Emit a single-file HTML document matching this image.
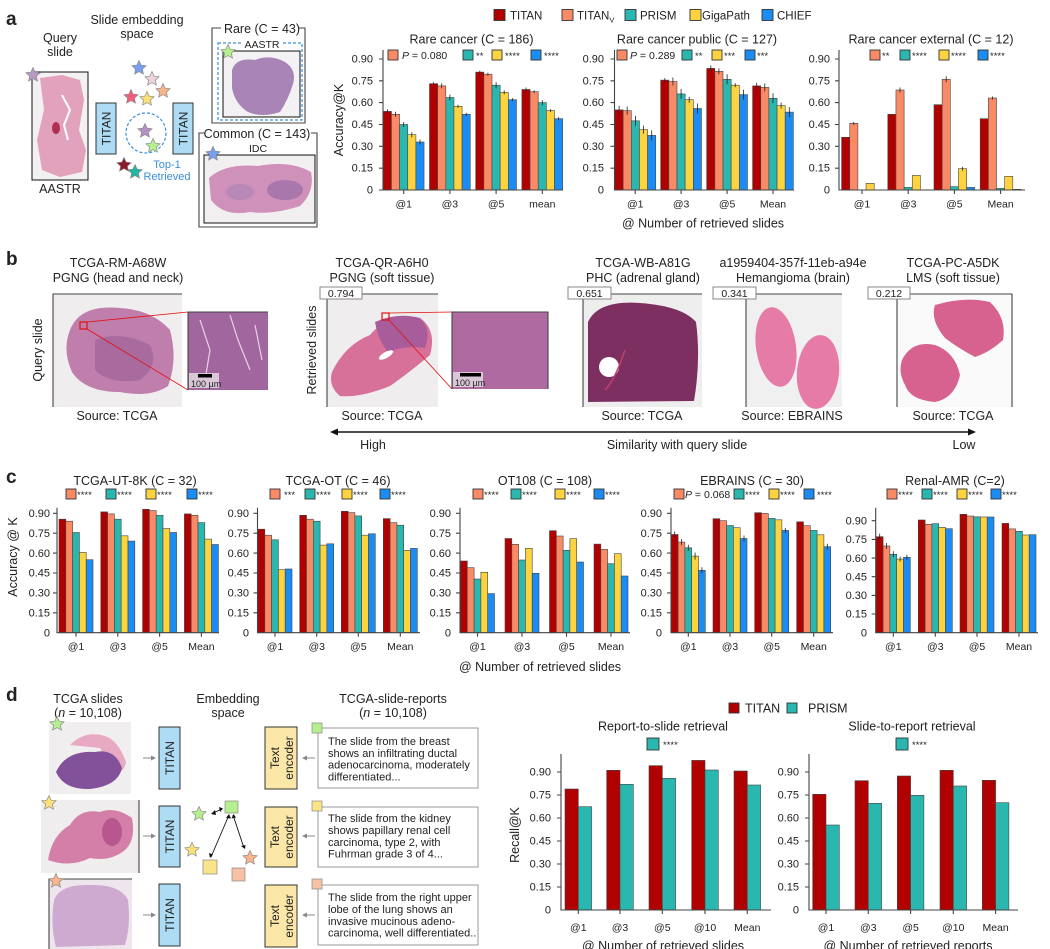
<!DOCTYPE html>
<html><head><meta charset="utf-8"><style>
html,body{margin:0;padding:0;background:#fff}
svg{display:block}
text{font-family:"Liberation Sans",sans-serif;fill:#222}
.t{fill:#b00000}.v{fill:#f98a66}.p{fill:#2ab7b0}.g{fill:#fdd33f}.c{fill:#1c8cf5}
.bars rect{stroke:#444;stroke-width:0.6}
.ax{stroke:#444;stroke-width:1.1;fill:none}
.eb{stroke:#222;stroke-width:0.8;fill:none}
.tk text{font-size:11px;text-anchor:end}
.xl text{font-size:10.5px;text-anchor:middle}
.lg rect{stroke:#333;stroke-width:0.9}
.lg text{font-size:9.5px}
.ttl{font-size:12.5px;text-anchor:middle}
.st{stroke:#888;stroke-width:0.7}
</style></head><body>
<svg width="1050" height="949" viewBox="0 0 1050 949" xmlns="http://www.w3.org/2000/svg">
<defs>
<path id="star" d="M0,-7.5 L2.1,-2.9 L7.1,-2.3 L3.4,1.1 L4.4,6.1 L0,3.6 L-4.4,6.1 L-3.4,1.1 L-7.1,-2.3 L-2.1,-2.9 Z"/>
</defs>
<rect width="1050" height="949" fill="#fff"/>

<!-- ================= PANEL A LEFT ================= -->
<text x="6" y="25" style="font-size:19px;font-weight:bold">a</text>
<text x="137" y="24" class="ttl">Slide embedding</text>
<text x="137" y="38" class="ttl">space</text>
<text x="60" y="42" class="ttl">Query</text>
<text x="60" y="56" class="ttl">slide</text>
<rect x="32" y="72" width="56" height="108" fill="#f2f0f0" stroke="#111" stroke-width="1"/>
<path d="M40,78 L62,75 L80,80 L84,100 L79,130 L86,150 L82,172 L60,177 L42,170 L37,140 L44,110 Z" fill="#e2a2bc"/>
<path d="M62,95 L70,110 L64,125 L68,140" stroke="#fff" stroke-width="2" fill="none"/>
<ellipse cx="56" cy="128" rx="4" ry="6" fill="#b03050"/>
<use href="#star" x="33" y="75" fill="#b89ac4" class="st"/>
<text x="60" y="193" class="ttl">AASTR</text>
<rect x="96" y="103" width="20" height="51" fill="#aedcf5" stroke="#333"/>
<text transform="rotate(-90 110.5 128.5)" x="110.5" y="128.5" style="font-size:12px;text-anchor:middle">TITAN</text>
<rect x="173" y="103" width="20" height="51" fill="#aedcf5" stroke="#333"/>
<text transform="rotate(-90 187.5 128.5)" x="187.5" y="128.5" style="font-size:12px;text-anchor:middle">TITAN</text>
<use href="#star" x="139" y="68" fill="#7a9ff0" class="st"/>
<use href="#star" x="152" y="79" fill="#f0d3e0" class="st"/>
<use href="#star" x="163" y="91" fill="#f8b48c" class="st"/>
<use href="#star" x="131" y="97" fill="#f0607a" class="st"/>
<use href="#star" x="147" y="99" fill="#fbe17a" class="st"/>
<circle cx="146" cy="133" r="20" fill="none" stroke="#3a8fd8" stroke-width="1.2" stroke-dasharray="3,2"/>
<use href="#star" x="145" y="131" fill="#b592c4" class="st"/>
<use href="#star" x="153" y="146" fill="#b6ef8f" class="st"/>
<use href="#star" x="124" y="165" fill="#8b1a2b" class="st"/>
<use href="#star" x="135" y="172" fill="#26b5a4" class="st"/>
<text x="167" y="168" style="font-size:11px;text-anchor:middle;fill:#3a8fd8">Top-1</text>
<text x="167" y="180" style="font-size:11px;text-anchor:middle;fill:#3a8fd8">Retrieved</text>

<!-- Rare box -->
<path d="M221,28 L212,28 L212,123 L305,123 L305,28 L299,28" class="ax" stroke="#111"/>
<text x="262" y="33" style="font-size:12.5px;text-anchor:middle">Rare (C = 43)</text>
<rect x="218" y="43" width="84" height="77" fill="none" stroke="#3a8fd8" stroke-width="1.2" stroke-dasharray="3,2"/>
<rect x="223" y="51" width="77" height="66" fill="#f3f1f3" stroke="#111"/>
<rect x="243" y="39" width="38" height="10" fill="#fff"/>
<text x="262" y="48" style="font-size:10.5px;text-anchor:middle">AASTR</text>
<path d="M232,70 Q236,57 255,60 Q270,54 285,62 Q297,70 293,84 Q288,100 280,112 Q262,118 248,112 Q235,104 232,88 Z" fill="#a885b6"/>
<use href="#star" x="228" y="52" fill="#b6ef8f" class="st"/>

<!-- Common box -->
<path d="M205,133 L199,133 L199,227 L317,227 L317,133 L311,133" class="ax" stroke="#111"/>
<text x="257" y="138" style="font-size:12.5px;text-anchor:middle">Common (C = 143)</text>
<text x="258" y="152" style="font-size:10.5px;text-anchor:middle">IDC</text>
<rect x="204" y="155" width="111" height="68" fill="#f1eff0" stroke="#111"/>
<path d="M209,178 Q225,163 258,166 Q290,160 311,172 Q315,192 300,206 Q272,215 250,212 Q224,217 211,200 Z" fill="#cf90b9"/>
<ellipse cx="285" cy="190" rx="18" ry="10" fill="#a977ac"/>
<ellipse cx="240" cy="192" rx="14" ry="8" fill="#b889b6"/>
<use href="#star" x="213" y="154" fill="#7a9ff0" class="st"/>

<!-- ================= PANEL A CHARTS ================= -->
<g class="lg">
<rect x="494" y="9.5" width="11" height="11" class="t"/><text x="510" y="19.5" style="font-size:11.5px">TITAN</text>
<rect x="562" y="9.5" width="11" height="11" class="v"/><text x="577" y="19.5" style="font-size:11.5px">TITAN<tspan style="font-size:7.5px" dy="3">V</tspan></text>
<rect x="625" y="9.5" width="11" height="11" class="p"/><text x="640" y="19.5" style="font-size:11.5px">PRISM</text>
<rect x="690" y="9.5" width="11" height="11" class="g"/><text x="702" y="19.5" style="font-size:11.5px">GigaPath</text>
<rect x="762" y="9.5" width="11" height="11" class="c"/><text x="777" y="19.5" style="font-size:11.5px">CHIEF</text>
</g>
<text transform="rotate(-90 343 120)" x="343" y="120" style="font-size:12.5px;text-anchor:middle">Accuracy@K</text>

<!-- chart a1 -->
<text x="471.5" y="43.5" class="ttl">Rare cancer (C = 186)</text>
<g class="lg">
<rect x="388" y="50" width="10" height="10" class="v"/><text x="402" y="59" style="font-size:10.5px"><tspan font-style="italic">P</tspan> = 0.080</text>
<rect x="463" y="50" width="10" height="10" class="p"/><text x="476" y="59">**</text>
<rect x="492" y="50" width="10" height="10" class="g"/><text x="505" y="59">****</text>
<rect x="531" y="50" width="10" height="10" class="c"/><text x="544" y="59">****</text>
</g>
<g class="tk">
<text x="373" y="62.5">0.90</text><text x="373" y="84.3">0.75</text><text x="373" y="106.1">0.60</text><text x="373" y="128">0.45</text><text x="373" y="149.8">0.30</text><text x="373" y="171.7">0.15</text><text x="373" y="193.5">0</text>
</g>
<g class="bars">
<rect x="383.3" y="111.4" width="8.15" height="78.6" class="t"/><rect x="391.45" y="114.3" width="8.15" height="75.7" class="v"/><rect x="399.6" y="124.5" width="8.15" height="65.5" class="p"/><rect x="407.75" y="134.7" width="8.15" height="55.3" class="g"/><rect x="415.9" y="142" width="8.15" height="48" class="c"/>
<rect x="429.5" y="83.7" width="8.15" height="106.3" class="t"/><rect x="437.65" y="85.9" width="8.15" height="104.1" class="v"/><rect x="445.8" y="97.5" width="8.15" height="92.5" class="p"/><rect x="453.95" y="106.3" width="8.15" height="83.7" class="g"/><rect x="462.1" y="114.3" width="8.15" height="75.7" class="c"/>
<rect x="475.7" y="72.1" width="8.15" height="117.9" class="t"/><rect x="483.85" y="74.2" width="8.15" height="115.8" class="v"/><rect x="492" y="85.2" width="8.15" height="104.8" class="p"/><rect x="500.15" y="92.4" width="8.15" height="97.6" class="g"/><rect x="508.3" y="99.7" width="8.15" height="90.3" class="c"/>
<rect x="521.9" y="89.5" width="8.15" height="100.5" class="t"/><rect x="530.05" y="91.7" width="8.15" height="98.3" class="v"/><rect x="538.2" y="102.6" width="8.15" height="87.4" class="p"/><rect x="546.35" y="110.6" width="8.15" height="79.4" class="g"/><rect x="554.5" y="118.7" width="8.15" height="71.3" class="c"/>
</g>
<path class="eb" d="M387.4,109.4v4 M395.5,111.8v5 M403.7,122v5 M411.8,132.2v5 M420,139.5v5 M433.6,82.2v3 M441.7,83.4v5 M449.9,94.5v6 M458,104.8v3 M466.2,112.8v3 M479.8,70.6v3 M487.9,72.7v3 M496.1,82.2v6 M504.2,90.4v4 M512.4,98.2v3 M526,87.5v4 M534.1,90.2v3 M542.3,100.1v5 M550.4,109.1v3 M558.6,117.2v3"/>
<path d="M383,50 L383,190 L563,190 M379,59 L383,59 M379,80.8 L383,80.8 M379,102.6 L383,102.6 M379,124.5 L383,124.5 M379,146.3 L383,146.3 M379,168.2 L383,168.2 M379,190 L383,190 M403.7,190 L403.7,194 M449.9,190 L449.9,194 M496.1,190 L496.1,194 M542.3,190 L542.3,194" class="ax"/>
<g class="xl"><text x="403.7" y="207.5">@1</text><text x="449.9" y="207.5">@3</text><text x="496.1" y="207.5">@5</text><text x="542.3" y="207.5">mean</text></g>

<!-- chart a2 -->
<text x="697" y="43.5" class="ttl">Rare cancer public (C = 127)</text>
<g class="lg">
<rect x="617" y="50" width="10" height="10" class="v"/><text x="630" y="59" style="font-size:10.5px"><tspan font-style="italic">P</tspan> = 0.289</text>
<rect x="682" y="50" width="10" height="10" class="p"/><text x="695" y="59">**</text>
<rect x="712" y="50" width="10" height="10" class="g"/><text x="724" y="59">***</text>
<rect x="745" y="50" width="10" height="10" class="c"/><text x="757" y="59">***</text>
</g>
<g class="tk">
<text x="604" y="62.5">0.90</text><text x="604" y="84.3">0.75</text><text x="604" y="106.1">0.60</text><text x="604" y="128">0.45</text><text x="604" y="149.8">0.30</text><text x="604" y="171.7">0.15</text><text x="604" y="193.5">0</text>
</g>
<g class="bars">
<rect x="615" y="109.9" width="8.15" height="80.1" class="t"/><rect x="623.15" y="110.6" width="8.15" height="79.4" class="v"/><rect x="631.3" y="120.8" width="8.15" height="69.2" class="p"/><rect x="639.45" y="129.6" width="8.15" height="60.4" class="g"/><rect x="647.6" y="135.4" width="8.15" height="54.6" class="c"/>
<rect x="660.7" y="80.1" width="8.15" height="109.9" class="t"/><rect x="668.85" y="81.5" width="8.15" height="108.5" class="v"/><rect x="677" y="93.9" width="8.15" height="96.1" class="p"/><rect x="685.15" y="99.7" width="8.15" height="90.3" class="g"/><rect x="693.3" y="108.5" width="8.15" height="81.5" class="c"/>
<rect x="706.7" y="68.4" width="8.15" height="121.6" class="t"/><rect x="714.85" y="71.3" width="8.15" height="118.7" class="v"/><rect x="723" y="79.3" width="8.15" height="110.7" class="p"/><rect x="731.15" y="85.2" width="8.15" height="104.8" class="g"/><rect x="739.3" y="94.6" width="8.15" height="95.4" class="c"/>
<rect x="752.6" y="85.9" width="8.15" height="104.1" class="t"/><rect x="760.75" y="87.4" width="8.15" height="102.6" class="v"/><rect x="768.9" y="98.3" width="8.15" height="91.7" class="p"/><rect x="777.05" y="105.6" width="8.15" height="84.4" class="g"/><rect x="785.2" y="112.1" width="8.15" height="77.9" class="c"/>
</g>
<path class="eb" d="M619.1,105.9v8 M627.2,106.6v8 M635.4,115.8v10 M643.5,125.6v8 M651.7,130.4v10 M664.8,78.1v4 M672.9,77.5v8 M681.1,88.9v10 M689.2,96.7v6 M697.4,103.5v10 M710.8,65.4v6 M718.9,68.3v6 M727.1,74.3v10 M735.2,83.2v4 M743.4,89.6v10 M756.7,82.9v6 M764.8,83.4v8 M773,93.3v10 M781.1,102.6v6 M789.3,107.1v10"/>
<path d="M614.5,50 L614.5,190 L794,190 M610.5,59 L614.5,59 M610.5,80.8 L614.5,80.8 M610.5,102.6 L614.5,102.6 M610.5,124.5 L614.5,124.5 M610.5,146.3 L614.5,146.3 M610.5,168.2 L614.5,168.2 M635.2,190 L635.2,194 M681.1,190 L681.1,194 M727.1,190 L727.1,194 M773,190 L773,194" class="ax"/>
<g class="xl"><text x="635.2" y="207.5">@1</text><text x="681.1" y="207.5">@3</text><text x="727.1" y="207.5">@5</text><text x="773" y="207.5">Mean</text></g>

<!-- chart a3 -->
<text x="931" y="43.5" class="ttl">Rare cancer external (C = 12)</text>
<g class="lg">
<rect x="870" y="50" width="10" height="10" class="v"/><text x="882" y="59">**</text>
<rect x="900" y="50" width="10" height="10" class="p"/><text x="912" y="59">****</text>
<rect x="939" y="50" width="10" height="10" class="g"/><text x="951" y="59">****</text>
<rect x="978" y="50" width="10" height="10" class="c"/><text x="990" y="59">****</text>
</g>
<g class="tk">
<text x="830" y="62.5">0.90</text><text x="830" y="84.3">0.75</text><text x="830" y="106.1">0.60</text><text x="830" y="128">0.45</text><text x="830" y="149.8">0.30</text><text x="830" y="171.7">0.15</text><text x="830" y="193.5">0</text>
</g>
<g class="bars">
<rect x="841.6" y="137.3" width="8.15" height="52.7" class="t"/><rect x="849.75" y="123.3" width="8.15" height="66.7" class="v"/><rect x="866.05" y="183.3" width="8.15" height="6.7" class="g"/>
<rect x="887.8" y="114.3" width="8.15" height="75.7" class="t"/><rect x="895.95" y="90" width="8.15" height="100" class="v"/><rect x="904.1" y="187.4" width="8.15" height="2.6" class="p"/><rect x="912.25" y="175.4" width="8.15" height="14.6" class="g"/>
<rect x="934" y="104.7" width="8.15" height="85.3" class="t"/><rect x="942.15" y="79.3" width="8.15" height="110.7" class="v"/><rect x="950.3" y="186.7" width="8.15" height="3.3" class="p"/><rect x="958.45" y="168.7" width="8.15" height="21.3" class="g"/><rect x="966.6" y="187.4" width="8.15" height="2.6" class="c"/>
<rect x="980.2" y="118.7" width="8.15" height="71.3" class="t"/><rect x="988.35" y="98" width="8.15" height="92" class="v"/><rect x="996.5" y="188.4" width="8.15" height="1.6" class="p"/><rect x="1004.65" y="176.3" width="8.15" height="13.7" class="g"/><rect x="1012.8" y="189.3" width="8.15" height="0.7" class="c"/>
</g>
<path class="eb" d="M853.8,122v3 M900,87.5v5 M946.2,76.3v6 M962.5,166.7v4 M992.4,96.5v3"/>
<path d="M839,50 L839,190 L1025,190 M835,59 L839,59 M835,80.8 L839,80.8 M835,102.6 L839,102.6 M835,124.5 L839,124.5 M835,146.3 L839,146.3 M835,168.2 L839,168.2 M862,190 L862,194 M908.2,190 L908.2,194 M954.4,190 L954.4,194 M1000.6,190 L1000.6,194" class="ax"/>
<g class="xl"><text x="862" y="207.5">@1</text><text x="908.2" y="207.5">@3</text><text x="954.4" y="207.5">@5</text><text x="1000.6" y="207.5">Mean</text></g>
<text x="703" y="227.5" class="ttl">@ Number of retrieved slides</text>

<!-- ================= PANEL B ================= -->
<text x="6" y="265" style="font-size:19px;font-weight:bold">b</text>
<text x="118" y="267" class="ttl">TCGA-RM-A68W</text>
<text x="118" y="282" class="ttl">PGNG (head and neck)</text>
<text transform="rotate(-90 42 350)" x="42" y="350" class="ttl">Query slide</text>
<rect x="53" y="294" width="129" height="113" fill="#efeded"/>
<path d="M53,407 L53,294 L182,294" class="ax" stroke="#111"/>
<path d="M70,330 Q80,304 120,308 Q152,310 170,330 Q178,360 168,386 Q150,398 120,392 Q85,392 72,372 Q62,350 70,330 Z" fill="#bf7eab"/>
<path d="M95,340 Q120,330 150,345 Q160,365 140,380 Q110,385 95,370 Z" fill="#a96b9e"/>
<rect x="80" y="322" width="7" height="7" fill="none" stroke="#e01010" stroke-width="1.2"/>
<path d="M87,322 L188,312 M87,329 L188,390" stroke="#e01010" stroke-width="0.8"/>
<rect x="188" y="312" width="80" height="78" fill="#a2669f"/>
<path d="M200,320 L210,350 L205,380 M230,315 L238,340 L250,370 M255,325 L262,360" stroke="#e8d0e6" stroke-width="1.2" fill="none"/>
<path d="M188,390 L188,312 L268,312" class="ax" stroke="#111"/>
<rect x="189" y="373" width="30" height="15" fill="#d9c7d8"/>
<rect x="198" y="374" width="14" height="3.5" fill="#000"/>
<text x="191" y="387" style="font-size:9px">100 µm</text>
<text x="117" y="420" class="ttl">Source: TCGA</text>

<text x="382" y="267" class="ttl">TCGA-QR-A6H0</text>
<text x="382" y="282" class="ttl">PGNG (soft tissue)</text>
<text transform="rotate(-90 316 350)" x="316" y="350" class="ttl">Retrieved slides</text>
<rect x="327" y="294" width="111" height="113" fill="#efeded"/>
<path d="M327,407 L327,294 L438,294" class="ax" stroke="#111"/>
<path d="M332,372 Q345,345 370,335 Q388,313 420,318 Q437,330 430,355 Q410,372 390,386 Q360,398 340,396 Q328,386 332,372 Z" fill="#d7719a"/>
<path d="M375,322 Q398,312 420,318 Q432,330 425,348 Q405,345 388,352 Q378,340 375,322 Z" fill="#a85c9a"/>
<ellipse cx="386" cy="355" rx="8" ry="3" fill="#fff" transform="rotate(-30 386 355)"/>
<rect x="320" y="287" width="42" height="12" fill="#fff" stroke="#888"/>
<text x="341" y="297" style="font-size:10.5px;text-anchor:middle">0.794</text>
<rect x="382" y="313" width="7" height="7" fill="none" stroke="#e01010" stroke-width="1.2"/>
<path d="M389,313 L452,312 M389,320 L452,389" stroke="#e01010" stroke-width="0.8"/>
<rect x="452" y="312" width="96" height="77" fill="#b06aa2"/>
<path d="M452,389 L452,312 L548,312 L548,389" class="ax" stroke="#111"/>
<rect x="453" y="372" width="30" height="15" fill="#d9c7d8"/>
<rect x="460" y="373" width="21" height="3.5" fill="#000"/>
<text x="455" y="386" style="font-size:9px">100 µm</text>
<text x="382" y="420" class="ttl">Source: TCGA</text>

<text x="643" y="267" class="ttl">TCGA-WB-A81G</text>
<text x="643" y="282" class="ttl">PHC (adrenal gland)</text>
<rect x="583" y="294" width="119" height="113" fill="#efeeee"/>
<path d="M583,407 L583,294 L702,294" class="ax" stroke="#111"/>
<path d="M588,322 Q598,300 640,303 Q682,306 696,322 Q701,360 694,401 L588,402 Z" fill="#7e2f62"/>
<circle cx="609" cy="367" r="10" fill="#fff"/>
<path d="M605,390 Q615,380 625,350" stroke="#c0406a" stroke-width="1.5" fill="none"/>
<rect x="568" y="287" width="43" height="12" fill="#fff" stroke="#888"/>
<text x="589.5" y="297" style="font-size:10.5px;text-anchor:middle">0.651</text>
<text x="642" y="420" class="ttl">Source: TCGA</text>

<text x="793" y="267" class="ttl">a1959404-357f-11eb-a94e</text>
<text x="793" y="282" class="ttl">Hemangioma (brain)</text>
<rect x="746" y="294" width="96" height="113" fill="#f0f0f0"/>
<path d="M746,407 L746,294 L842,294" class="ax" stroke="#111"/>
<ellipse cx="776" cy="347" rx="20" ry="40" fill="#e67ba8" transform="rotate(-8 776 347)"/>
<ellipse cx="818" cy="372" rx="21" ry="37" fill="#e67ba8" transform="rotate(5 818 372)"/>
<rect x="713" y="287" width="43" height="12" fill="#fff" stroke="#888"/>
<text x="734.5" y="297" style="font-size:10.5px;text-anchor:middle">0.341</text>
<text x="792" y="420" class="ttl">Source: EBRAINS</text>

<text x="953" y="267" class="ttl">TCGA-PC-A5DK</text>
<text x="953" y="282" class="ttl">LMS (soft tissue)</text>
<rect x="897" y="294" width="115" height="113" fill="#fafafa"/>
<path d="M897,407 L897,294 L1012,294 L1012,407" class="ax" stroke="#111"/>
<path d="M935,305 Q965,296 990,302 Q1007,318 1003,340 Q990,352 975,357 Q958,348 945,338 Q930,320 935,305 Z" fill="#d8628f"/>
<path d="M902,360 Q912,340 935,345 Q955,352 960,375 Q955,398 935,402 Q910,400 905,385 Q898,372 902,360 Z" fill="#d8628f"/>
<rect x="868" y="287" width="42" height="12" fill="#fff" stroke="#888"/>
<text x="889" y="297" style="font-size:10.5px;text-anchor:middle">0.212</text>
<text x="953" y="420" class="ttl">Source: TCGA</text>

<path d="M334,432 L971,432" stroke="#111" stroke-width="1.6"/>
<path d="M330,432 L338,428.5 L338,435.5 Z M976,432 L968,428.5 L968,435.5 Z" fill="#111"/>
<text x="373" y="449" class="ttl">High</text>
<text x="677" y="449" class="ttl">Similarity with query slide</text>
<text x="964" y="449" class="ttl">Low</text>

<!-- ================= PANEL C ================= -->
<text x="6" y="483" style="font-size:19px;font-weight:bold">c</text>
<text transform="rotate(-90 17 557)" x="17" y="557" class="ttl">Accuracy @ K</text>

<!-- c1 -->
<text x="135" y="485" class="ttl">TCGA-UT-8K (C = 32)</text>
<g class="lg">
<rect x="66" y="489" width="10" height="10" class="v"/><text x="77" y="498">****</text>
<rect x="106" y="489" width="10" height="10" class="p"/><text x="117" y="498">****</text>
<rect x="146" y="489" width="10" height="10" class="g"/><text x="157" y="498">****</text>
<rect x="187" y="489" width="10" height="10" class="c"/><text x="198" y="498">****</text>
</g>
<g class="tk">
<text x="50" y="517">0.90</text><text x="50" y="536.9">0.75</text><text x="50" y="556.8">0.60</text><text x="50" y="576.7">0.45</text><text x="50" y="596.6">0.30</text><text x="50" y="616.5">0.15</text><text x="50" y="636.4">0</text>
</g>
<g class="bars">
<rect x="59" y="519.2" width="6.8" height="113.5" class="t"/><rect x="65.8" y="521.2" width="6.8" height="111.5" class="v"/><rect x="72.6" y="532.5" width="6.8" height="100.2" class="p"/><rect x="79.4" y="552.4" width="6.8" height="80.3" class="g"/><rect x="86.2" y="559.7" width="6.8" height="73" class="c"/>
<rect x="100.8" y="511.9" width="6.8" height="120.8" class="t"/><rect x="107.6" y="513.9" width="6.8" height="118.8" class="v"/><rect x="114.4" y="519.2" width="6.8" height="113.5" class="p"/><rect x="121.2" y="535.8" width="6.8" height="96.9" class="g"/><rect x="128" y="541.1" width="6.8" height="91.6" class="c"/>
<rect x="142.6" y="509.3" width="6.8" height="123.4" class="t"/><rect x="149.4" y="510.6" width="6.8" height="122.1" class="v"/><rect x="156.2" y="515.3" width="6.8" height="117.4" class="p"/><rect x="163" y="528.5" width="6.8" height="104.2" class="g"/><rect x="169.8" y="532.5" width="6.8" height="100.2" class="c"/>
<rect x="184.4" y="513.9" width="6.8" height="118.8" class="t"/><rect x="191.2" y="515.3" width="6.8" height="117.4" class="v"/><rect x="198" y="522.6" width="6.8" height="110.1" class="p"/><rect x="204.8" y="539.1" width="6.8" height="93.6" class="g"/><rect x="211.6" y="544.5" width="6.8" height="88.2" class="c"/>
</g>
<path d="M57,507.7 L57,632.7 L219,632.7 M53,513.3 L57,513.3 M53,533.2 L57,533.2 M53,553.1 L57,553.1 M53,573 L57,573 M53,592.9 L57,592.9 M53,612.8 L57,612.8 M76,632.7 L76,636.7 M117.8,632.7 L117.8,636.7 M159.6,632.7 L159.6,636.7 M201.4,632.7 L201.4,636.7" class="ax"/>
<g class="xl"><text x="76" y="650">@1</text><text x="117.8" y="650">@3</text><text x="159.6" y="650">@5</text><text x="201.4" y="650">Mean</text></g>

<!-- c2 -->
<text x="338" y="485" class="ttl">TCGA-OT (C = 46)</text>
<g class="lg">
<rect x="270" y="489" width="10" height="10" class="v"/><text x="284" y="498">***</text>
<rect x="305" y="489" width="10" height="10" class="p"/><text x="316" y="498">****</text>
<rect x="342" y="489" width="10" height="10" class="g"/><text x="353" y="498">****</text>
<rect x="380" y="489" width="10" height="10" class="c"/><text x="391" y="498">****</text>
</g>
<g class="tk">
<text x="249" y="517">0.90</text><text x="249" y="536.9">0.75</text><text x="249" y="556.8">0.60</text><text x="249" y="576.7">0.45</text><text x="249" y="596.6">0.30</text><text x="249" y="616.5">0.15</text><text x="249" y="636.4">0</text>
</g>
<g class="bars">
<rect x="258" y="529.2" width="6.8" height="103.5" class="t"/><rect x="264.8" y="535.2" width="6.8" height="97.5" class="v"/><rect x="271.6" y="539.8" width="6.8" height="92.9" class="p"/><rect x="278.4" y="569.7" width="6.8" height="63" class="g"/><rect x="285.2" y="569" width="6.8" height="63.7" class="c"/>
<rect x="299.7" y="515.3" width="6.8" height="117.4" class="t"/><rect x="306.5" y="519.2" width="6.8" height="113.5" class="v"/><rect x="313.3" y="521.2" width="6.8" height="111.5" class="p"/><rect x="320.1" y="545.1" width="6.8" height="87.6" class="g"/><rect x="326.9" y="543.8" width="6.8" height="88.9" class="c"/>
<rect x="341.3" y="511.3" width="6.8" height="121.4" class="t"/><rect x="348.1" y="512.6" width="6.8" height="120.1" class="v"/><rect x="354.9" y="515.9" width="6.8" height="116.8" class="p"/><rect x="361.7" y="535.2" width="6.8" height="97.5" class="g"/><rect x="368.5" y="533.8" width="6.8" height="98.9" class="c"/>
<rect x="383.3" y="518.6" width="6.8" height="114.1" class="t"/><rect x="390.1" y="522.6" width="6.8" height="110.1" class="v"/><rect x="396.9" y="525.2" width="6.8" height="107.5" class="p"/><rect x="403.7" y="550.4" width="6.8" height="82.3" class="g"/><rect x="410.5" y="548.4" width="6.8" height="84.3" class="c"/>
</g>
<path d="M257.5,507.7 L257.5,632.7 L420,632.7 M253.5,513.3 L257.5,513.3 M253.5,533.2 L257.5,533.2 M253.5,553.1 L257.5,553.1 M253.5,573 L257.5,573 M253.5,592.9 L257.5,592.9 M253.5,612.8 L257.5,612.8 M275,632.7 L275,636.7 M316.7,632.7 L316.7,636.7 M358.3,632.7 L358.3,636.7 M400.3,632.7 L400.3,636.7" class="ax"/>
<g class="xl"><text x="275" y="650">@1</text><text x="316.7" y="650">@3</text><text x="358.3" y="650">@5</text><text x="400.3" y="650">Mean</text></g>

<!-- c3 -->
<text x="545" y="485" class="ttl">OT108 (C = 108)</text>
<g class="lg">
<rect x="473" y="489" width="10" height="10" class="v"/><text x="484" y="498">****</text>
<rect x="511" y="489" width="10" height="10" class="p"/><text x="522" y="498">****</text>
<rect x="555" y="489" width="10" height="10" class="g"/><text x="566" y="498">****</text>
<rect x="594" y="489" width="10" height="10" class="c"/><text x="605" y="498">****</text>
</g>
<g class="tk">
<text x="451" y="517">0.90</text><text x="451" y="536.9">0.75</text><text x="451" y="556.8">0.60</text><text x="451" y="576.7">0.45</text><text x="451" y="596.6">0.30</text><text x="451" y="616.5">0.15</text><text x="451" y="636.4">0</text>
</g>
<g class="bars">
<rect x="460.5" y="561" width="6.8" height="71.7" class="t"/><rect x="467.3" y="567.7" width="6.8" height="65" class="v"/><rect x="474.1" y="579" width="6.8" height="53.7" class="p"/><rect x="480.9" y="572.3" width="6.8" height="60.4" class="g"/><rect x="487.7" y="593.6" width="6.8" height="39.1" class="c"/>
<rect x="505" y="538.5" width="6.8" height="94.2" class="t"/><rect x="511.8" y="544.3" width="6.8" height="88.4" class="v"/><rect x="518.6" y="560" width="6.8" height="72.7" class="p"/><rect x="525.4" y="548.3" width="6.8" height="84.4" class="g"/><rect x="532.2" y="573.3" width="6.8" height="59.4" class="c"/>
<rect x="549.5" y="530.7" width="6.8" height="102" class="t"/><rect x="556.3" y="536" width="6.8" height="96.7" class="v"/><rect x="563.1" y="550.3" width="6.8" height="82.4" class="p"/><rect x="569.9" y="538.6" width="6.8" height="94.1" class="g"/><rect x="576.7" y="562" width="6.8" height="70.7" class="c"/>
<rect x="594" y="544.1" width="6.8" height="88.6" class="t"/><rect x="600.8" y="549.4" width="6.8" height="83.3" class="v"/><rect x="607.6" y="563.7" width="6.8" height="69" class="p"/><rect x="614.4" y="553.7" width="6.8" height="79" class="g"/><rect x="621.2" y="576" width="6.8" height="56.7" class="c"/>
</g>
<path d="M460,507.7 L460,632.7 L630,632.7 M456,513.3 L460,513.3 M456,533.2 L460,533.2 M456,553.1 L460,553.1 M456,573 L460,573 M456,592.9 L460,592.9 M456,612.8 L460,612.8 M477.5,632.7 L477.5,636.7 M522,632.7 L522,636.7 M566.5,632.7 L566.5,636.7 M611,632.7 L611,636.7" class="ax"/>
<g class="xl"><text x="477.5" y="650">@1</text><text x="522" y="650">@3</text><text x="566.5" y="650">@5</text><text x="611" y="650">Mean</text></g>
<text x="540" y="671" class="ttl">@ Number of retrieved slides</text>

<!-- c4 -->
<text x="752" y="485" class="ttl">EBRAINS (C = 30)</text>
<g class="lg">
<rect x="674" y="489" width="10" height="10" class="v"/><text x="685" y="498" style="font-size:10.5px"><tspan font-style="italic">P</tspan> = 0.068</text>
<rect x="734" y="489" width="10" height="10" class="p"/><text x="745" y="498">****</text>
<rect x="769" y="489" width="10" height="10" class="g"/><text x="780" y="498">****</text>
<rect x="804" y="489" width="10" height="10" class="c"/><text x="817" y="498">****</text>
</g>
<g class="tk">
<text x="662" y="517">0.90</text><text x="662" y="536.9">0.75</text><text x="662" y="556.8">0.60</text><text x="662" y="576.7">0.45</text><text x="662" y="596.6">0.30</text><text x="662" y="616.5">0.15</text><text x="662" y="636.4">0</text>
</g>
<g class="bars">
<rect x="671.3" y="534.5" width="6.8" height="98.2" class="t"/><rect x="678.1" y="542.1" width="6.8" height="90.6" class="v"/><rect x="684.9" y="547.8" width="6.8" height="84.9" class="p"/><rect x="691.7" y="556.1" width="6.8" height="76.6" class="g"/><rect x="698.5" y="570.3" width="6.8" height="62.4" class="c"/>
<rect x="713" y="518.7" width="6.8" height="114" class="t"/><rect x="719.8" y="520.7" width="6.8" height="112" class="v"/><rect x="726.6" y="525.5" width="6.8" height="107.2" class="p"/><rect x="733.4" y="527.7" width="6.8" height="105" class="g"/><rect x="740.2" y="538.5" width="6.8" height="94.2" class="c"/>
<rect x="754.7" y="512.7" width="6.8" height="120" class="t"/><rect x="761.5" y="513.4" width="6.8" height="119.3" class="v"/><rect x="768.3" y="518.4" width="6.8" height="114.3" class="p"/><rect x="775.1" y="519.8" width="6.8" height="112.9" class="g"/><rect x="781.9" y="530.4" width="6.8" height="102.3" class="c"/>
<rect x="796.7" y="521.8" width="6.8" height="110.9" class="t"/><rect x="803.5" y="525.7" width="6.8" height="107" class="v"/><rect x="810.3" y="530.4" width="6.8" height="102.3" class="p"/><rect x="817.1" y="534.8" width="6.8" height="97.9" class="g"/><rect x="823.9" y="546.7" width="6.8" height="86" class="c"/>
</g>
<path class="eb" d="M674.7,531.5v6 M681.5,539.1v6 M688.3,544.8v6 M695.1,552.6v7 M701.9,567.3v6 M744,535.5v6 M785.3,527.9v5 M827.3,543.7v6"/>
<path d="M671,507.7 L671,632.7 L833,632.7 M667,513.3 L671,513.3 M667,533.2 L671,533.2 M667,553.1 L671,553.1 M667,573 L671,573 M667,592.9 L671,592.9 M667,612.8 L671,612.8 M688.3,632.7 L688.3,636.7 M730,632.7 L730,636.7 M771.7,632.7 L771.7,636.7 M813.7,632.7 L813.7,636.7" class="ax"/>
<g class="xl"><text x="688.3" y="650">@1</text><text x="730" y="650">@3</text><text x="771.7" y="650">@5</text><text x="813.7" y="650">Mean</text></g>

<!-- c5 -->
<text x="955" y="485" class="ttl">Renal-AMR (C=2)</text>
<g class="lg">
<rect x="887" y="489" width="10" height="10" class="v"/><text x="898" y="498">****</text>
<rect x="922" y="489" width="10" height="10" class="p"/><text x="933" y="498">****</text>
<rect x="957" y="489" width="10" height="10" class="g"/><text x="968" y="498">****</text>
<rect x="991" y="489" width="10" height="10" class="c"/><text x="1002" y="498">****</text>
</g>
<g class="tk">
<text x="867" y="524.4">0.90</text><text x="867" y="543.1">0.75</text><text x="867" y="561.8">0.60</text><text x="867" y="580.4">0.45</text><text x="867" y="599.1">0.30</text><text x="867" y="617.7">0.15</text><text x="867" y="636.4">0</text>
</g>
<g class="bars">
<rect x="876.3" y="536.7" width="6.8" height="96" class="t"/><rect x="883.1" y="546" width="6.8" height="86.7" class="v"/><rect x="889.9" y="554.3" width="6.8" height="78.4" class="p"/><rect x="896.7" y="559.1" width="6.8" height="73.6" class="g"/><rect x="903.5" y="557.3" width="6.8" height="75.4" class="c"/>
<rect x="918.3" y="520" width="6.8" height="112.7" class="t"/><rect x="925.1" y="524.3" width="6.8" height="108.4" class="v"/><rect x="931.9" y="523.7" width="6.8" height="109" class="p"/><rect x="938.7" y="527.3" width="6.8" height="105.4" class="g"/><rect x="945.5" y="528.7" width="6.8" height="104" class="c"/>
<rect x="960" y="514.3" width="6.8" height="118.4" class="t"/><rect x="966.8" y="516" width="6.8" height="116.7" class="v"/><rect x="973.6" y="516.8" width="6.8" height="115.9" class="p"/><rect x="980.4" y="517" width="6.8" height="115.7" class="g"/><rect x="987.2" y="517" width="6.8" height="115.7" class="c"/>
<rect x="1002" y="523.4" width="6.8" height="109.3" class="t"/><rect x="1008.8" y="528.9" width="6.8" height="103.8" class="v"/><rect x="1015.6" y="531.3" width="6.8" height="101.4" class="p"/><rect x="1022.4" y="535" width="6.8" height="97.7" class="g"/><rect x="1029.2" y="534.7" width="6.8" height="98" class="c"/>
</g>
<path class="eb" d="M879.7,533.7v6 M886.5,543v6 M893.3,551.3v6 M900.1,556.6v5 M906.9,554.8v5"/>
<path d="M875.7,507.7 L875.7,632.7 L1038,632.7 M871.7,520.7 L875.7,520.7 M871.7,539.4 L875.7,539.4 M871.7,558.1 L875.7,558.1 M871.7,576.7 L875.7,576.7 M871.7,595.4 L875.7,595.4 M871.7,614 L875.7,614 M893.3,632.7 L893.3,636.7 M935.3,632.7 L935.3,636.7 M977,632.7 L977,636.7 M1019,632.7 L1019,636.7" class="ax"/>
<g class="xl"><text x="893.3" y="650">@1</text><text x="935.3" y="650">@3</text><text x="977" y="650">@5</text><text x="1019" y="650">Mean</text></g>

<!-- ================= PANEL D LEFT ================= -->
<text x="6" y="701" style="font-size:19px;font-weight:bold">d</text>
<text x="88" y="703" class="ttl">TCGA slides</text>
<text x="88" y="717" class="ttl">(<tspan font-style="italic">n</tspan> = 10,108)</text>
<text x="228" y="703" class="ttl">Embedding</text>
<text x="228" y="717" class="ttl">space</text>
<text x="393" y="703" class="ttl">TCGA-slide-reports</text>
<text x="393" y="717" class="ttl">(<tspan font-style="italic">n</tspan> = 10,108)</text>

<rect x="49" y="722" width="82" height="72" fill="#f0eeee"/>
<path d="M70,745 Q85,730 105,736 Q118,740 126,762 Q124,772 118,772 Q105,758 100,748 Z" fill="#e8a9c3"/>
<path d="M56,772 Q66,750 95,752 Q115,748 122,768 Q118,786 90,789 Q64,790 56,772 Z" fill="#83509a"/>
<use href="#star" x="57" y="724" fill="#b6ef8f" class="st"/>

<rect x="41" y="800" width="98" height="73" fill="#efeded"/>
<path d="M139,800 L139,873" class="ax" stroke="#111"/>
<path d="M48,860 Q52,835 70,825 Q80,808 100,812 Q115,806 132,818 Q136,840 125,850 Q110,862 90,858 Q70,868 48,860 Z" fill="#d47fa7"/>
<ellipse cx="112" cy="832" rx="10" ry="14" fill="#b8578f"/>
<use href="#star" x="49" y="803" fill="#fbe17a" class="st"/>

<rect x="49" y="879" width="83" height="70" fill="#ede6ec"/>
<path d="M49,949 L49,879 L132,879" class="ax" stroke="#111"/>
<path d="M54,900 Q60,884 90,885 Q120,884 128,900 Q131,925 125,945 L56,947 Q50,925 54,900 Z" fill="#cfaad0"/>
<use href="#star" x="56" y="881" fill="#f8b48c" class="st"/>

<path d="M143,758 L154,758 M143,836 L154,836 M143,915 L154,915" stroke="#888" stroke-width="1"/>
<path d="M156,758 L151,755.5 L151,760.5 Z M156,836 L151,833.5 L151,838.5 Z M156,915 L151,912.5 L151,917.5 Z" fill="#888"/>
<rect x="159" y="727" width="21" height="62" fill="#aedcf5" stroke="#333"/>
<text transform="rotate(-90 174 758)" x="174" y="758" style="font-size:12px;text-anchor:middle">TITAN</text>
<rect x="159" y="806" width="21" height="61" fill="#aedcf5" stroke="#333"/>
<text transform="rotate(-90 174 836.5)" x="174" y="836.5" style="font-size:12px;text-anchor:middle">TITAN</text>
<rect x="159" y="884" width="21" height="62" fill="#aedcf5" stroke="#333"/>
<text transform="rotate(-90 174 915)" x="174" y="915" style="font-size:12px;text-anchor:middle">TITAN</text>

<use href="#star" x="199" y="814" fill="#b6ef8f" class="st"/>
<rect x="225" y="801" width="13" height="12" fill="#b6ef8f" stroke="#888" stroke-width="0.7"/>
<use href="#star" x="192" y="850" fill="#fbe17a" class="st"/>
<rect x="203" y="860" width="14" height="14" fill="#fbe38a" stroke="#888" stroke-width="0.7"/>
<use href="#star" x="250" y="858" fill="#f8b48c" class="st"/>
<rect x="232" y="868" width="13" height="13" fill="#f8c0a4" stroke="#888" stroke-width="0.7"/>
<path d="M213,813 L222,809 M229,815 L211,857 M233,815 L244,848" stroke="#111" stroke-width="0.9"/>
<path d="M211,814 L215,810 L216,815 Z M223,808.5 L219,807 L220,812 Z M229,814 L226,818 L231,818.5 Z M210,858 L209,853 L213,854.5 Z M233.5,814 L231.5,818.5 L236,817.5 Z M245,849 L241,846 L245.5,845 Z" fill="#111"/>

<rect x="265" y="727" width="32" height="62" fill="#fbe8a8" stroke="#333"/>
<text transform="rotate(-90 279 758)" x="279" y="758" style="font-size:12px;text-anchor:middle">Text</text>
<text transform="rotate(-90 293 758)" x="293" y="758" style="font-size:12px;text-anchor:middle">encoder</text>
<rect x="265" y="807" width="32" height="60" fill="#fbe8a8" stroke="#333"/>
<text transform="rotate(-90 279 837)" x="279" y="837" style="font-size:12px;text-anchor:middle">Text</text>
<text transform="rotate(-90 293 837)" x="293" y="837" style="font-size:12px;text-anchor:middle">encoder</text>
<rect x="265" y="885" width="32" height="62" fill="#fbe8a8" stroke="#333"/>
<text transform="rotate(-90 279 916)" x="279" y="916" style="font-size:12px;text-anchor:middle">Text</text>
<text transform="rotate(-90 293 916)" x="293" y="916" style="font-size:12px;text-anchor:middle">encoder</text>
<path d="M305,758 L315,758 M305,836 L315,836 M305,915 L315,915" stroke="#888" stroke-width="1"/>
<path d="M302,758 L307,755.5 L307,760.5 Z M302,836 L307,833.5 L307,838.5 Z M302,915 L307,912.5 L307,917.5 Z" fill="#888"/>

<rect x="318" y="728" width="160" height="60" fill="#fff" stroke="#999"/>
<rect x="312" y="723" width="10" height="10" fill="#b6ef8f" stroke="#888" stroke-width="0.7"/>
<g style="font-size:11px">
<text x="328" y="745">The slide from the breast</text>
<text x="328" y="757">shows an infiltrating ductal</text>
<text x="328" y="768.5">adenocarcinoma, moderately</text>
<text x="328" y="780.5">differentiated...</text>
</g>
<rect x="318" y="807" width="160" height="60" fill="#fff" stroke="#999"/>
<rect x="312" y="801" width="10" height="10" fill="#fbe38a" stroke="#888" stroke-width="0.7"/>
<g style="font-size:11px">
<text x="328" y="822">The slide from the kidney</text>
<text x="328" y="834">shows papillary renal cell</text>
<text x="328" y="846">carcinoma, type 2, with</text>
<text x="328" y="857.5">Fuhrman grade 3 of 4...</text>
</g>
<rect x="318" y="885" width="160" height="60" fill="#fff" stroke="#999"/>
<rect x="312" y="879" width="10" height="10" fill="#f8c0a4" stroke="#888" stroke-width="0.7"/>
<g style="font-size:11px">
<text x="328" y="901">The slide from the right upper</text>
<text x="328" y="913">lobe of the lung shows an</text>
<text x="328" y="925">invasive mucinous adeno-</text>
<text x="328" y="936.5">carcinoma, well differentiated..</text>
</g>

<!-- ================= PANEL D CHARTS ================= -->
<g class="lg">
<rect x="729" y="703" width="10" height="10" class="t"/><text x="745" y="712.5" style="font-size:12.5px">TITAN</text>
<rect x="787" y="703" width="10" height="10" class="p"/><text x="808" y="712.5" style="font-size:12.5px">PRISM</text>
</g>
<text x="663" y="730.5" class="ttl">Report-to-slide retrieval</text>
<text x="912" y="730.5" class="ttl">Slide-to-report retrieval</text>
<g class="lg">
<rect x="647" y="738" width="12" height="12" class="p"/><text x="663" y="748">****</text>
<rect x="896" y="738" width="12" height="12" class="p"/><text x="912" y="748">****</text>
</g>
<text transform="rotate(-90 519 835)" x="519" y="835" class="ttl">Recall@K</text>

<g class="tk">
<text x="551" y="775.7">0.90</text><text x="551" y="798.7">0.75</text><text x="551" y="821.7">0.60</text><text x="551" y="844.7">0.45</text><text x="551" y="867.7">0.30</text><text x="551" y="890.7">0.15</text><text x="551" y="913.7">0</text>
<text x="799" y="775.7">0.90</text><text x="799" y="798.7">0.75</text><text x="799" y="821.7">0.60</text><text x="799" y="844.7">0.45</text><text x="799" y="867.7">0.30</text><text x="799" y="890.7">0.15</text><text x="799" y="913.7">0</text>
</g>
<g class="bars">
<rect x="565" y="789" width="13.3" height="121" class="t"/><rect x="578.3" y="806.7" width="13.3" height="103.3" class="p"/>
<rect x="606.7" y="770.3" width="13.3" height="139.7" class="t"/><rect x="620" y="784.3" width="13.3" height="125.7" class="p"/>
<rect x="649" y="765.7" width="13.3" height="144.3" class="t"/><rect x="662.3" y="778.3" width="13.3" height="131.7" class="p"/>
<rect x="691.7" y="760.4" width="13.3" height="149.6" class="t"/><rect x="705" y="770" width="13.3" height="140" class="p"/>
<rect x="734" y="771" width="13.3" height="139" class="t"/><rect x="747.3" y="785" width="13.3" height="125" class="p"/>
<rect x="812.7" y="794.3" width="13.3" height="115.7" class="t"/><rect x="826" y="825" width="13.3" height="85" class="p"/>
<rect x="855" y="780.7" width="13.3" height="129.3" class="t"/><rect x="868.3" y="803.3" width="13.3" height="106.7" class="p"/>
<rect x="897.3" y="776" width="13.3" height="134" class="t"/><rect x="910.6" y="795.3" width="13.3" height="114.7" class="p"/>
<rect x="940" y="770.3" width="13.3" height="139.7" class="t"/><rect x="953.3" y="786" width="13.3" height="124" class="p"/>
<rect x="982.3" y="780.3" width="13.3" height="129.7" class="t"/><rect x="995.6" y="802.7" width="13.3" height="107.3" class="p"/>
</g>
<path d="M561,754 L561,910 L771,910 M557,772 L561,772 M557,795 L561,795 M557,818 L561,818 M557,841 L561,841 M557,864 L561,864 M557,887 L561,887 M578.3,910 L578.3,914 M620,910 L620,914 M662.3,910 L662.3,914 M705,910 L705,914 M747.3,910 L747.3,914" class="ax"/>
<path d="M809,754 L809,910 L1018,910 M805,772 L809,772 M805,795 L809,795 M805,818 L809,818 M805,841 L809,841 M805,864 L809,864 M805,887 L809,887 M826,910 L826,914 M868.3,910 L868.3,914 M910.6,910 L910.6,914 M953.3,910 L953.3,914 M995.6,910 L995.6,914" class="ax"/>
<g class="xl">
<text x="578.3" y="931">@1</text><text x="620" y="931">@3</text><text x="662.3" y="931">@5</text><text x="705" y="931">@10</text><text x="747.3" y="931">Mean</text>
<text x="826" y="931">@1</text><text x="868.3" y="931">@3</text><text x="910.6" y="931">@5</text><text x="953.3" y="931">@10</text><text x="995.6" y="931">Mean</text>
</g>
<text x="663" y="950" class="ttl">@ Number of retrieved slides</text>
<text x="908" y="950" class="ttl">@ Number of retrieved reports</text>
</svg>
</body></html>
